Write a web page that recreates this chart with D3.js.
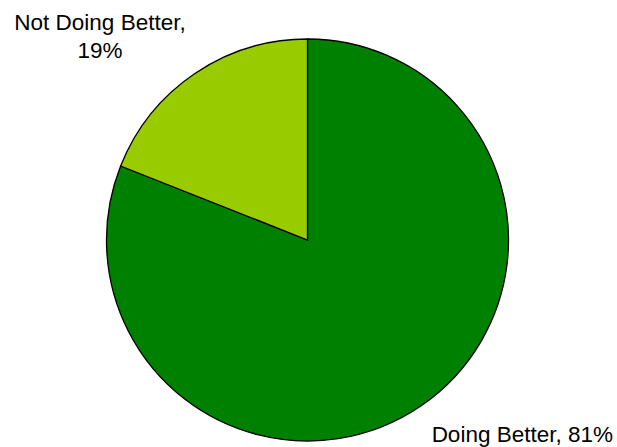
<!DOCTYPE html>
<html>
<head>
<meta charset="utf-8">
<script src="https://cdn.jsdelivr.net/npm/d3@7"></script>
<style>
  html, body { margin: 0; padding: 0; background: #fff; }
  svg { display: block; }
</style>
</head>
<body>
<div id="chart"></div>
<script>
// slices, clockwise from 12 o'clock
const categories = ["Doing Better", "Not Doing Better"];
const values = [81, 19];
const colors = ["#008000", "#99CC00"];

const W = 617, H = 447;
const cx = 307.5, cy = 240, R = 201;

const svg = d3.select("#chart").append("svg").attr("width", W).attr("height", H);

const pie = d3.pie().sort(null).value(d => d.value);
const arc = d3.arc().innerRadius(0).outerRadius(R);

const data = categories.map((c, i) => ({ name: c, value: values[i], color: colors[i] }));

const g = svg.append("g").attr("transform", `translate(${cx},${cy})`);
g.selectAll("path").data(pie(data)).join("path")
  .attr("d", arc)
  .attr("fill", d => d.data.color)
  .attr("stroke", "#000")
  .attr("stroke-width", 1.3)
  .attr("stroke-linejoin", "miter");

// labels
const font = "Liberation Sans, Arial, sans-serif";
svg.append("text")
  .attr("x", 100).attr("y", 29.5)
  .attr("text-anchor", "middle")
  .style("font-family", font).style("font-size", "22.5px").attr("fill", "#000")
  .selectAll("tspan")
  .data([`${categories[1]},`, `${values[1]}%`])
  .join("tspan")
  .attr("x", 100)
  .attr("dy", (d, i) => i === 0 ? 0 : 28)
  .text(d => d);

svg.append("text")
  .attr("x", 613).attr("y", 441.5)
  .attr("text-anchor", "end")
  .style("font-family", font).style("font-size", "22.5px").attr("fill", "#000")
  .text(`${categories[0]}, ${values[0]}%`);
</script>
</body>
</html>
